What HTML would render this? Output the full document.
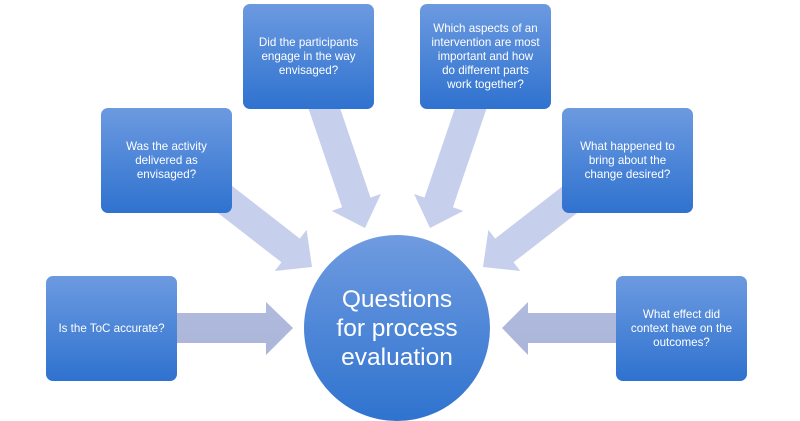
<!DOCTYPE html>
<html><head><meta charset="utf-8"><style>
html,body{margin:0;padding:0;background:#fff;}
body{width:800px;height:418px;position:relative;overflow:hidden;font-family:"Liberation Sans",sans-serif;}
.b{position:absolute;width:131px;height:105px;border-radius:7px;background:linear-gradient(#6c9ae0,#2f72cf);color:#fff;font-size:11.6px;line-height:14px;text-align:center;display:flex;align-items:center;justify-content:center;box-sizing:border-box;padding:0;white-space:nowrap;}
.c{position:absolute;left:304px;top:235px;width:186px;height:186px;border-radius:50%;background:linear-gradient(#6f9be0,#2f73cf);color:#fff;font-size:24.5px;line-height:29px;text-align:center;display:flex;align-items:center;justify-content:center;}
svg{position:absolute;left:0;top:0;}
</style></head><body>
<svg width="800" height="418">
<defs><linearGradient id="g" gradientUnits="userSpaceOnUse" x1="0" y1="80" x2="0" y2="360"><stop offset="0" stop-color="#c6cfec"/><stop offset="1" stop-color="#aab5d9"/></linearGradient></defs>
<g fill="url(#g)">
<polygon points="170,313 266,313 266,302 293,328 266,355 266,343 170,343"/>
<polygon points="625,313 528,313 528,302 502,328 528,355 528,343 625,343"/>
<polygon transform="rotate(37.8 312 267) translate(312 267)" points="-150,-15 -27,-15 -27,-26 0,0 -27,26 -27,15 -150,15"/>
<polygon transform="rotate(71.2 365 228) translate(365 228)" points="-150,-15 -27,-15 -27,-26 0,0 -27,26 -27,15 -150,15"/>
<polygon transform="rotate(108.8 430 228) translate(430 228)" points="-150,-15 -27,-15 -27,-26 0,0 -27,26 -27,15 -150,15"/>
<polygon transform="rotate(142.2 483 267) translate(483 267)" points="-150,-15 -27,-15 -27,-26 0,0 -27,26 -27,15 -150,15"/>
</g>
</svg>
<div class="b" style="left:46px;top:276px;">Is the ToC accurate?</div>
<div class="b" style="left:101px;top:108px;">Was the activity<br>delivered as<br>envisaged?</div>
<div class="b" style="left:243px;top:4px;">Did the participants<br>engage in the way<br>envisaged?</div>
<div class="b" style="left:420px;top:4px;">Which aspects of an<br>intervention are most<br>important and how<br>do different parts<br>work together?</div>
<div class="b" style="left:562px;top:108px;">What happened to<br>bring about the<br>change desired?</div>
<div class="b" style="left:616px;top:276px;">What effect did<br>context have on the<br>outcomes?</div>
<div class="c">Questions<br>for process<br>evaluation</div>
</body></html>
